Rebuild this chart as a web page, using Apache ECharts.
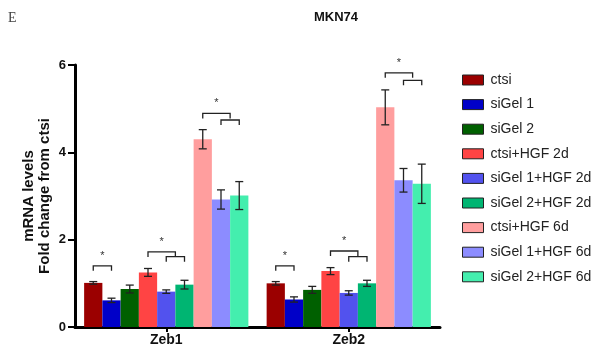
<!DOCTYPE html>
<html>
<head>
<meta charset="utf-8">
<script src="https://cdn.jsdelivr.net/npm/echarts@6/dist/echarts.min.js"></script>
<style>html,body{margin:0;padding:0;background:#fff;}#c{width:601px;height:352px;}</style>
</head>
<body>
<div id="c"></div>
<script>
var categories = ['Zeb1', 'Zeb2'];
var seriesNames = ['ctsi', 'siGel 1', 'siGel 2', 'ctsi+HGF 2d', 'siGel 1+HGF 2d', 'siGel 2+HGF 2d', 'ctsi+HGF 6d', 'siGel 1+HGF 6d', 'siGel 2+HGF 6d'];
var seriesColors = ['#9b0000', '#0000c8', '#006000', '#ff4444', '#5252ee', '#00b572', '#ff9e9e', '#8c8cff', '#44eeae'];
var zeb1Mean = [1.01, 0.61, 0.87, 1.25, 0.81, 0.97, 4.30, 2.92, 3.01];
var zeb1Err  = [0.03, 0.05, 0.09, 0.09, 0.04, 0.10, 0.22, 0.22, 0.32];
var zeb2Mean = [1.00, 0.63, 0.85, 1.28, 0.78, 1.00, 5.03, 3.36, 3.28];
var zeb2Err  = [0.04, 0.06, 0.08, 0.08, 0.05, 0.07, 0.40, 0.27, 0.45];
var yTicks = [0, 2, 4, 6];
// brackets: [category index, from bar, to bar, height]
var brackets = [
  [0, 0, 1, 1.40], [0, 3, 4.5, 1.72], [0, 4, 5, 1.61], [0, 6, 7.5, 4.89], [0, 7, 8, 4.74],
  [1, 0, 1, 1.40], [1, 3, 4.5, 1.74], [1, 4, 5, 1.61], [1, 6, 7.5, 5.82], [1, 7, 8, 5.65]
];
// stars: [category index, bar position, height]
var stars = [
  [0, 0.5, 1.62], [0, 3.75, 1.95], [0, 6.75, 5.13],
  [1, 0.5, 1.62], [1, 3.75, 1.97], [1, 6.75, 6.04]
];

var means = [zeb1Mean, zeb2Mean];
var errs = [zeb1Err, zeb2Err];
var N = seriesNames.length;
var CAT_GAP = 0.1;

function barCenter(api, cat, pos) {
  var c = api.coord([cat, 0]);
  var band = api.size([1, 0])[0];
  var group = band * (1 - CAT_GAP);
  var bw = group / N;
  return c[0] - group / 2 + bw * (pos + 0.5);
}

var series = seriesNames.map(function (name, i) {
  return {
    name: name, type: 'bar',
    barGap: '0%', barCategoryGap: (CAT_GAP * 100) + '%',
    itemStyle: { color: seriesColors[i] },
    data: categories.map(function (c, k) { return means[k][i]; })
  };
});

var errData = [];
categories.forEach(function (c, k) {
  for (var i = 0; i < N; i++) errData.push([k, i, means[k][i], errs[k][i]]);
});

series.push({
  type: 'custom', name: 'err', silent: true, z: 5,
  renderItem: function (params, api) {
    var k = api.value(0), i = api.value(1), m = api.value(2), e = api.value(3);
    var x = barCenter(api, k, i);
    var yt = api.coord([k, m + e])[1];
    var yb = api.coord([k, m - e])[1];
    var hw = 4;
    var st = { stroke: '#222', lineWidth: 1.3 };
    return { type: 'group', children: [
      { type: 'line', shape: { x1: x, y1: yt, x2: x, y2: yb }, style: st },
      { type: 'line', shape: { x1: x - hw, y1: yt, x2: x + hw, y2: yt }, style: st },
      { type: 'line', shape: { x1: x - hw, y1: yb, x2: x + hw, y2: yb }, style: st }
    ]};
  },
  encode: { x: 0, y: 2 },
  data: errData
});

series.push({
  type: 'custom', name: 'brackets', silent: true, z: 5,
  renderItem: function (params, api) {
    var k = api.value(0);
    var x1 = barCenter(api, k, api.value(1));
    var x2 = barCenter(api, k, api.value(2));
    var y = api.coord([k, api.value(3)])[1];
    var leg = 5;
    return { type: 'polyline', shape: { points: [[x1, y + leg], [x1, y], [x2, y], [x2, y + leg]] },
      style: { stroke: '#222', lineWidth: 1.3, fill: null } };
  },
  encode: { x: 0, y: 3 },
  data: brackets
});

series.push({
  type: 'custom', name: 'stars', silent: true, z: 5,
  renderItem: function (params, api) {
    var k = api.value(0);
    var x = barCenter(api, k, api.value(1));
    var y = api.coord([k, api.value(2)])[1];
    return { type: 'text', x: x, y: y,
      style: { text: '*', fill: '#333', font: '11px Arial, "Liberation Sans"', align: 'center', verticalAlign: 'middle' } };
  },
  encode: { x: 0, y: 2 },
  data: stars
});

var chart = echarts.init(document.getElementById('c'), null, { renderer: 'canvas' });
chart.setOption({
  animation: false,
  backgroundColor: '#fff',
  title: [
    { text: 'MKN74', left: 331, top: 6, textAlign: 'center',
      textStyle: { fontFamily: 'Arial, "Liberation Sans"', fontWeight: 'bold', fontSize: 13, color: '#111' } },
    { text: 'E', left: 3, top: 6,
      textStyle: { fontFamily: '"Liberation Serif", "DejaVu Serif", serif', fontWeight: 'normal', fontSize: 14, color: '#444' } }
  ],
  legend: {
    data: seriesNames, orient: 'vertical', left: 457, top: 68,
    itemWidth: 21, itemHeight: 10, itemGap: 10.6,
    itemStyle: { borderColor: '#222', borderWidth: 1 },
    textStyle: { fontFamily: 'Arial, "Liberation Sans"', fontSize: 14, color: '#222', padding: [0, 0, 0, 2] },
    icon: 'rect'
  },
  grid: { left: 75, right: 161, top: 65, bottom: 25, containLabel: false },
  xAxis: {
    type: 'category', data: categories,
    axisLine: { lineStyle: { color: '#000', width: 3 } },
    axisTick: { show: true, alignWithLabel: true, length: 5, lineStyle: { color: '#000', width: 2 } },
    axisLabel: { fontFamily: 'Arial, "Liberation Sans"', fontWeight: 'bold', fontSize: 14, color: '#111', margin: 6 }
  },
  yAxis: {
    type: 'value', min: yTicks[0], max: yTicks[yTicks.length - 1], interval: 2,
    name: 'mRNA levels\nFold change from ctsi', nameLocation: 'middle', nameGap: 22, nameRotate: 90,
    nameMoveOverlap: false,
    nameTextStyle: { fontFamily: 'Arial, "Liberation Sans"', fontWeight: 'bold', fontSize: 15, color: '#111', lineHeight: 16 },
    axisLine: { show: true, lineStyle: { color: '#000', width: 3 } },
    axisTick: { show: true, length: 7, lineStyle: { color: '#000', width: 2 } },
    splitLine: { show: false },
    axisLabel: { fontFamily: 'Arial, "Liberation Sans"', fontWeight: 'bold', fontSize: 13, color: '#111', margin: 9 }
  },
  series: series
});
</script>
</body>
</html>
